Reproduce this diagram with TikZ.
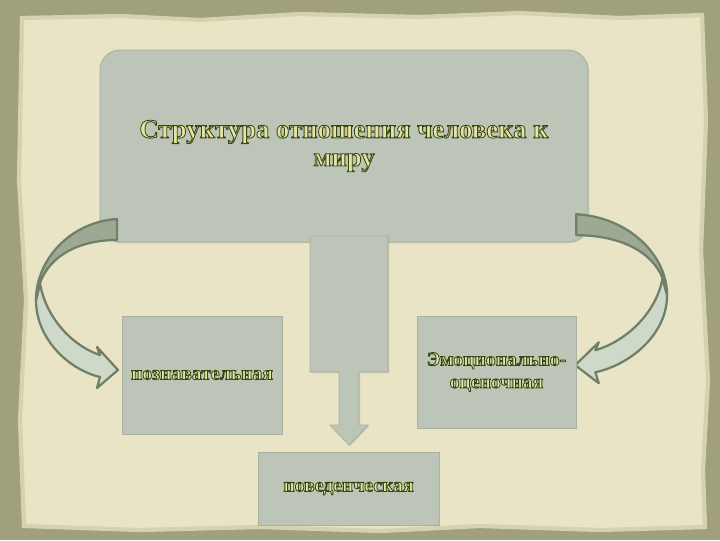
\documentclass[tikz,border=0pt]{standalone}
\usepackage{fontspec}
\setmainfont{Liberation Serif}
\usetikzlibrary{shadows}

\definecolor{frame}{HTML}{A09F7E}
\definecolor{paper}{HTML}{E8E4C5}
\definecolor{paperedge}{HTML}{D6D2AE}
\definecolor{boxfill}{HTML}{BCC5B8}
\definecolor{boxline}{HTML}{A9B1A2}
\definecolor{arrowdark}{HTML}{9DA994}
\definecolor{arrowlight}{HTML}{CFD9CA}
\definecolor{arrowline}{HTML}{6F7F68}
\definecolor{txtfill}{HTML}{E6E4A2}

% yellow letters with a dark green rim
\newcommand{\Outline}{\special{pdf:literal direct 0.22 0.28 0.07 RG 0.6 w 2 Tr}}
\newcommand{\Plain}{\special{pdf:literal direct 0 Tr}}

\newcommand{\CurvedArrow}{
    \filldraw[arrowlight, draw=arrowline, line width=1.6pt, line join=round] (36,300) .. controls (36,340) and (70,370) .. (100,377) -- (97,388) -- (118,370) -- (97,347) -- (100,355) .. controls (70,345) and (45,315) .. (40,283) -- cycle;
    \filldraw[arrowdark, draw=arrowline, line width=1.6pt, line join=round] (117,219) .. controls (70,222) and (36,260) .. (36,300) -- (40,283) .. controls (50,255) and (80,240) .. (117,240) -- cycle;
}

\tikzset{
    box/.style={draw=boxline, fill=boxfill, line width=0.6pt, inner sep=2pt, align=center, text=txtfill,
        drop shadow={opacity=0.3, shadow xshift=0.8pt, shadow yshift=-0.8pt},
        font=\bfseries\fontsize{14}{16}\selectfont},
}

\begin{document}
\begin{tikzpicture}[x=0.025cm, y=-0.025cm]
        \useasboundingbox (0,0) rectangle (720,540);
        \fill[frame] (0,0) rectangle (720,540);
        \filldraw[paper, draw=paperedge, line width=3pt] (22,18) -- (120,16) -- (200,20) -- (300,14) -- (420,17) -- (520,13) -- (620,18) -- (702,15) -- (706,120) -- (701,250) -- (708,380) -- (703,470) -- (705,527) -- (600,530) -- (480,526) -- (380,531) -- (260,527) -- (140,530) -- (24,526) -- (20,420) -- (26,300) -- (19,180) -- cycle;

        \node[box, rounded corners=0.5cm, minimum width=12.2cm, minimum height=4.8cm, font=\bfseries\fontsize{19}{20}\selectfont] (world) at (344,146) {\Outline Структура отношения человека к\\ миру\Plain};
        \filldraw[boxfill, draw=boxline, line width=0.6pt, drop shadow={opacity=0.3, shadow xshift=0.8pt, shadow yshift=-0.8pt}] (310,236) -- (388,236) -- (388,372) -- (359,372) -- (359,425) -- (368,425) -- (349,445) -- (330,425) -- (339,425) -- (339,372) -- (310,372) -- cycle;

        \CurvedArrow
        \begin{scope}[xshift=17.68cm, yshift=0.12cm, xscale=-1.12]
            \CurvedArrow
        \end{scope}

        \node[box, minimum width=4cm, minimum height=2.95cm] (cognitive) at (202,375) {\Outline познавательная\Plain};
        \node[box, minimum width=3.975cm, minimum height=2.8cm] (emotional) at (496.5,372) {\Outline Эмоционально-\\ оценочная\Plain};
        \node[box, minimum width=4.525cm, minimum height=1.825cm] (behavioral) at (348.5,488.5) {\Outline поведенческая\Plain};
    \end{tikzpicture}
\end{document}
